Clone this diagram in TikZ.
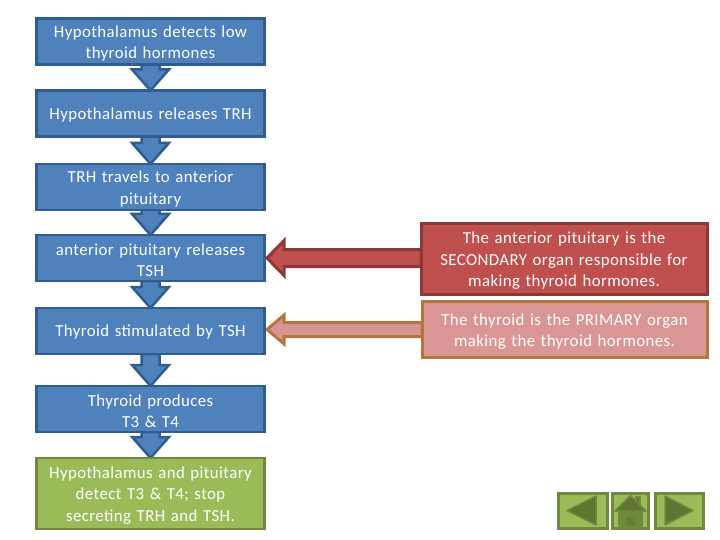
\documentclass[tikz,border=0pt]{standalone}
\usepackage{fontspec}
\setmainfont[LetterSpace=2.5]{Carlito}
\usetikzlibrary{arrows.meta,backgrounds,calc,positioning}
\definecolor{flowblue}{HTML}{4F81BD}
\definecolor{flowblueline}{HTML}{2F5D8F}
\definecolor{flowgreen}{HTML}{9BBB59}
\definecolor{flowgreenline}{HTML}{71893F}
\definecolor{navdark}{HTML}{5F7530}
\definecolor{sidered}{HTML}{C0504D}
\definecolor{sideredline}{HTML}{8C3836}
\definecolor{sidepink}{HTML}{D99694}
\definecolor{sidepinkline}{HTML}{B5763C}
\begin{document}
\begin{tikzpicture}
  [
  x=1pt, y=-1pt,
  flownode/.style={draw=flowblueline, fill=flowblue, line width=2.5pt, text=white, align=center,
    inner sep=0pt, outer sep=0pt, minimum width=228pt, minimum height=#1, text width=226pt,
    font=\fontsize{16.8}{21.5}\selectfont, execute at end node={\endgraf\vspace{-4pt}}},
  flownode/.default=46pt,
  stopnode/.style={flownode=71pt, draw=flowgreenline, fill=flowgreen},
  sidenode/.style={draw=#1line, fill=#1, line width=3pt, text=white, align=center,
    inner sep=0pt, outer sep=0pt, minimum width=286pt, text width=282pt,
    font=\fontsize{16.8}{21.5}\selectfont, execute at end node={\endgraf\vspace{-4pt}}},
  navnode/.style={draw=flowgreenline, fill=flowgreen, line width=3pt, inner sep=0pt, outer sep=0pt,
    minimum height=35pt},
  navicon/.style={draw=flowgreenline, fill=navdark, line width=1.5pt, line join=round},
  blockarrow/.style n args={3}{line width=#3, line join=miter, to path={
      let \p1=($(\tikztotarget)!#2!(\tikztostart)$) in
      -- ($(\tikztostart)!#1!90:(\tikztotarget)$)
      -- ($(\p1)!#1!90:(\tikztotarget)$)
      -- ($(\p1)!2.05*#1!90:(\tikztotarget)$)
      -- (\tikztotarget)
      -- ($(\p1)!2.05*#1!-90:(\tikztotarget)$)
      -- ($(\p1)!#1!-90:(\tikztotarget)$)
      -- ($(\tikztostart)!#1!-90:(\tikztotarget)$)
      -- cycle}},
  downarrow/.style={blockarrow={9pt}{21pt}{2.5pt}, draw=flowblueline, fill=flowblue},
  ]
  \useasboundingbox (0,0) rectangle (720,540);
  \node[flownode] (detect) at (150.5,41.5) {Hypothalamus detects low\\thyroid hormones};
  \node[flownode, below=26pt of detect] (release) {Hypothalamus releases TRH};
  \node[flownode, below=27.5pt of release] (travel) {TRH travels to anterior\\pituitary};
  \node[flownode, below=25pt of travel] (pituitary) {anterior pituitary releases\\TSH};
  \node[flownode, below=27pt of pituitary] (thyroid) {Thyroid stimulated by TSH};
  \node[flownode, below=32pt of thyroid] (produce) {Thyroid produces\\T3 \& T4};
  \node[stopnode, below=26pt of produce] (stop) {Hypothalamus and pituitary\\detect T3 \& T4; stop\\secreting TRH and TSH.};

  \node[sidenode=sidered, minimum height=70pt] (secondary) at (564,259)
    {The anterior pituitary is the\\SECONDARY organ responsible for\\making thyroid hormones.};
  \node[sidenode=sidepink, minimum height=56pt, minimum width=285pt] (primary) at (564.5,329.5)
    {The thyroid is the PRIMARY organ\\making the thyroid hormones.};

  \node[navnode, minimum width=49pt] (navback) at (582.5,510.5) {};
  \node[navnode, minimum width=36pt] (navhome) at (630.5,510.5) {};
  \node[navnode, minimum width=48pt] (navnext) at (679,510.5) {};
  \draw[navicon] (567,510.5) -- (596,496) -- (596,525) -- cycle;
  \draw[navicon] (665,496) -- (665,525) -- (693,510.5) -- cycle;
  \draw[navicon] (636,497) rectangle (640,506);
  \draw[navicon, fill=flowgreenline] (619,511) rectangle (642,526);
  \draw[navicon, draw=flowgreenline, fill=navdark] (615,511) -- (630.5,495.5) -- (646,511) -- cycle;
  \fill[navdark!60!flowgreenline] (626,517) rectangle (635,526);

  \begin{scope}[on background layer]
    \foreach \from/\to in {detect/release,release/travel,travel/pituitary,pituitary/thyroid,thyroid/produce,produce/stop}
      \draw[downarrow] (\from.south) to (\to.north);
    \draw[blockarrow={8.5pt}{17pt}{3pt}, draw=sideredline, fill=sidered] (secondary.west |- pituitary.east) to ($(pituitary.east)+(2.5pt,0)$);
    \draw[blockarrow={7pt}{17pt}{3pt}, draw=sidepinkline, fill=sidepink] (primary.west) to ($(thyroid.east |- primary.west)+(2.5pt,0)$);
  \end{scope}
\end{tikzpicture}
\end{document}
